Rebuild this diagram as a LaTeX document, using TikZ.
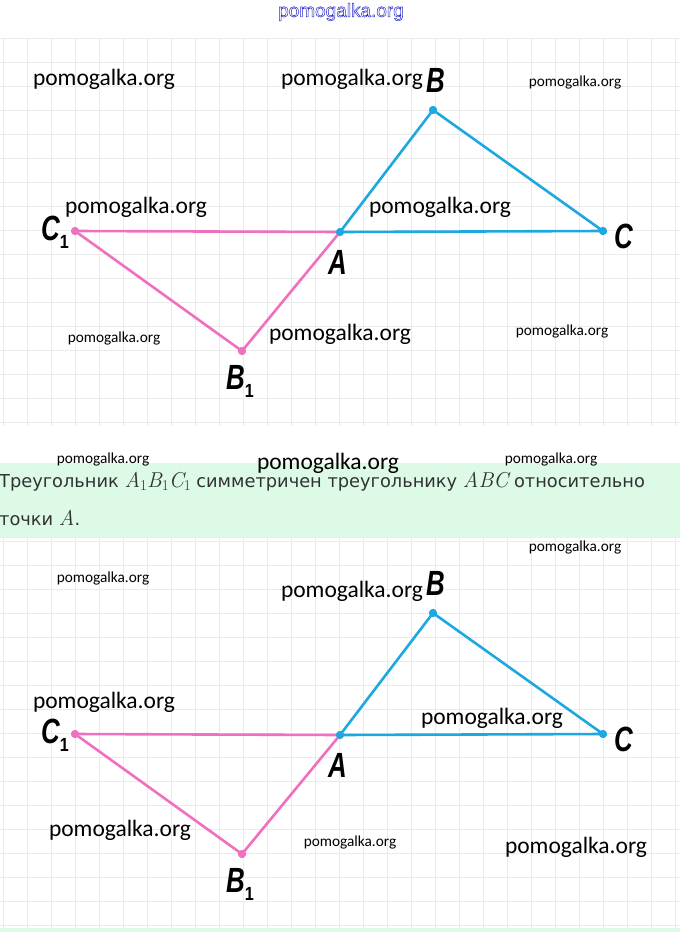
\documentclass[tikz,border=0pt]{standalone}
\usepackage{fontspec}
\usepackage{graphicx}
\setmainfont{DejaVu Sans}
\newfontfamily\wmfont{Carlito}
\newfontfamily\labfont{Liberation Sans}
\newfontfamily\lmrfont{Latin Modern Roman}
\definecolor{gridgray}{RGB}{235,235,235}
\definecolor{lineblue}{RGB}{30,168,224}
\definecolor{linepink}{RGB}{238,112,190}
\definecolor{mint}{RGB}{220,250,230}
\definecolor{textgray}{RGB}{50,50,50}
\definecolor{wmblue}{RGB}{40,40,200}
\newcommand{\vlab}[2]{\scalebox{0.74}[1]{\labfont\bfseries\itshape #1}\ifx&#2&\else\raisebox{-8pt}{\scalebox{0.85}[1]{\labfont\bfseries\fontsize{19}{19}\selectfont #2}}\fi}
\newcommand{\mvar}[1]{{\lmrfont\itshape\fontsize{21.5}{21.5}\selectfont #1}}
\newcommand{\msub}[1]{\raisebox{-3.2pt}{\lmrfont\fontsize{15}{15}\selectfont #1}}
\begin{document}
\begin{tikzpicture}[x=1pt,y=-1pt,
  gridline/.style={draw=gridgray,line width=0.9pt},
  blueside/.style={draw=lineblue,line width=2.6pt},
  pinkside/.style={draw=linepink,line width=2.6pt},
  bluedot/.style={circle,fill=lineblue,inner sep=0pt,minimum size=8pt},
  pinkdot/.style={circle,fill=linepink,inner sep=0pt,minimum size=8pt},
  vertexlabel/.style={inner sep=0pt,font=\fontsize{35}{35}\selectfont},
  wmlarge/.style={inner sep=0pt,font=\wmfont\fontsize{23.5}{23.5}\selectfont},
  wmsmall/.style={inner sep=0pt,font=\wmfont\fontsize{15.3}{15.3}\selectfont},
  bodytext/.style={inner sep=0pt,anchor=base west,text=textgray,font=\fontsize{17.8}{22}\selectfont}]
\useasboundingbox (0,0) rectangle (680,932);
\fill[white] (0,0) rectangle (680,932);
% grids
\foreach \i in {0,...,28} {\draw[gridline] (3+24*\i,38) -- (3+24*\i,426);}
\foreach \j in {0,...,16} {\draw[gridline] (0,38+24*\j) -- (680,38+24*\j);}
\foreach \i in {0,...,28} {\draw[gridline] (3+24*\i,538) -- (3+24*\i,928);}
\foreach \j in {0,...,16} {\draw[gridline] (0,541+24*\j) -- (680,541+24*\j);}
% green boxes
\fill[mint] (0,463) rectangle (680,538);
\fill[mint] (0,928) rectangle (680,932);
% top outlined watermark
\node[inner sep=0pt,text=wmblue,font=\fontsize{19}{19}\selectfont\labfont] (topwm) at (341,12) {\special{pdf:literal direct 1 Tr 0.5 w}pomogalka.org\special{pdf:literal direct 0 Tr}};
% ---------- top figure ----------
\node[bluedot] (A) at (340,232) {};
\node[bluedot] (B) at (433,110) {};
\node[bluedot] (C) at (603,231) {};
\node[pinkdot] (C1) at (75,231) {};
\node[pinkdot] (B1) at (242,351) {};
\draw[pinkside] (C1.center) -- (A.center);
\draw[pinkside] (C1.center) -- (B1.center) -- (A.center);
\draw[blueside] (A.center) -- (B.center) -- (C.center) -- (A.center);
\node[bluedot] at (A) {};
\node[bluedot] at (B) {};
\node[bluedot] at (C) {};
\node[pinkdot] at (C1) {};
\node[pinkdot] at (B1) {};
\node[vertexlabel] (lB) at (436,80) {\vlab{B}{}};
\node[vertexlabel] (lC) at (624,236) {\vlab{C}{}};
\node[vertexlabel] (lA) at (338,262) {\vlab{A}{}};
\node[vertexlabel] (lC1) at (55,232) {\vlab{C}{1}};
\node[vertexlabel] (lB1) at (240,381) {\vlab{B}{1}};
% ---------- bottom figure ----------
\node[bluedot] (A2) at (340,735) {};
\node[bluedot] (B2) at (433,613) {};
\node[bluedot] (C2) at (603,734) {};
\node[pinkdot] (C12) at (75,734) {};
\node[pinkdot] (B12) at (242,854) {};
\draw[pinkside] (C12.center) -- (A2.center);
\draw[pinkside] (C12.center) -- (B12.center) -- (A2.center);
\draw[blueside] (A2.center) -- (B2.center) -- (C2.center) -- (A2.center);
\node[bluedot] at (A2) {};
\node[bluedot] at (B2) {};
\node[bluedot] at (C2) {};
\node[pinkdot] at (C12) {};
\node[pinkdot] at (B12) {};
\node[vertexlabel] (lB2) at (436,583) {\vlab{B}{}};
\node[vertexlabel] (lC2) at (624,739) {\vlab{C}{}};
\node[vertexlabel] (lA2) at (338,765) {\vlab{A}{}};
\node[vertexlabel] (lC12) at (55,735) {\vlab{C}{1}};
\node[vertexlabel] (lB12) at (240,884) {\vlab{B}{1}};
% ---------- text ----------
\node[bodytext] (t1) at (-1,487) {Треугольник \mvar{A}\msub{1}\mvar{B}\msub{1}\mvar{C}\msub{1} симметричен треугольнику \mvar{ABC} относительно};
\node[bodytext] (t2) at (-1,525) {точки \mvar{A}.};
% ---------- watermarks ----------
\node[wmlarge] (w1) at (104,79) {pomogalka.org};
\node[wmlarge] (w2) at (352,79) {pomogalka.org};
\node[wmsmall] (w3) at (575,83) {pomogalka.org};
\node[wmlarge] (w4) at (136,207) {pomogalka.org};
\node[wmlarge] (w5) at (440,207) {pomogalka.org};
\node[wmsmall] (w6) at (114,338) {pomogalka.org};
\node[wmlarge] (w7) at (340,334) {pomogalka.org};
\node[wmsmall] (w8) at (562,331) {pomogalka.org};
\node[wmsmall] (w9) at (103,459) {pomogalka.org};
\node[wmlarge] (w10) at (328,463) {pomogalka.org};
\node[wmsmall] (w11) at (551,459) {pomogalka.org};
\node[wmsmall] (w12) at (575,547) {pomogalka.org};
\node[wmsmall] (w13) at (103,578) {pomogalka.org};
\node[wmlarge] (w14) at (352,591) {pomogalka.org};
\node[wmlarge] (w15) at (104,702) {pomogalka.org};
\node[wmlarge] (w16) at (492,718) {pomogalka.org};
\node[wmlarge] (w17) at (120,830) {pomogalka.org};
\node[wmsmall] (w18) at (350,842) {pomogalka.org};
\node[wmlarge] (w19) at (576,847) {pomogalka.org};
\end{tikzpicture}
\end{document}
